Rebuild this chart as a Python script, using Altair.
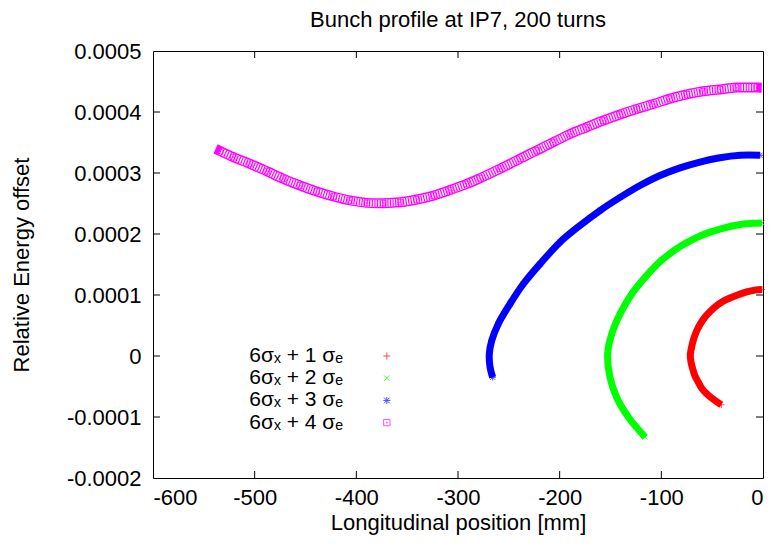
import altair as alt
import pandas as pd

# ---------------- data ----------------
series_names = ["6σₓ + 1 σₑ", "6σₓ + 2 σₑ", "6σₓ + 3 σₑ", "6σₓ + 4 σₑ"]
series_colors = ["#ff0000", "#00ff00", "#0000ff", "#ff00ff"]

red_x = [-1, -8, -16, -25, -32.5, -40, -46, -52, -57, -61.5, -65, -68, -70, -71.5,
         -70.8, -68.8, -66.8, -63.6, -60.3, -55.4, -48.9, -41]
red_y = [1.09e-4, 1.08e-4, 1.05e-4, 1.00e-4, 0.95e-4, 0.89e-4, 0.82e-4, 0.73e-4, 0.64e-4,
         0.53e-4, 0.42e-4, 0.29e-4, 0.16e-4, 0.02e-4, -0.10e-4, -0.23e-4, -0.33e-4,
         -0.43e-4, -0.53e-4, -0.62e-4, -0.71e-4, -0.80e-4]

green_x = [-1, -10, -21, -40.6, -60.3, -80, -99.7, -116, -129, -140.6, -148.8, -152.8,
           -150.5, -143.9, -132.5, -116]
green_y = [2.18e-4, 2.175e-4, 2.16e-4, 2.09e-4, 1.98e-4, 1.81e-4, 1.57e-4, 1.29e-4,
           1.02e-4, 0.69e-4, 0.36e-4, 0.04e-4, -0.35e-4, -0.68e-4, -1.00e-4, -1.33e-4]

blue_x = [-3, -22.6, -42.3, -62, -81.6, -101.3, -121, -140.6, -160.3, -180, -199.7,
          -219.3, -235.8, -248.8, -260.3, -266.8, -269.2, -268.5, -265.9]
blue_y = [3.29e-4, 3.29e-4, 3.25e-4, 3.18e-4, 3.085e-4, 2.96e-4, 2.795e-4, 2.60e-4,
          2.385e-4, 2.14e-4, 1.866e-4, 1.51e-4, 1.18e-4, 0.856e-4, 0.53e-4, 0.254e-4,
          0.036e-4, -0.18e-4, -0.35e-4]

magenta_x = [-534, -521, -504.6, -488.2, -471.8, -455.4, -439, -422.6, -406.2, -389.8,
             -373.4, -357, -340.6, -324.2, -307.9, -291.5, -278.4, -258.6, -239, -222.6,
             -206.3, -189.8, -173.4, -157, -140.6, -124.3, -107.9, -91.5, -75, -58.7,
             -42.3, -25.9, -6.2]
magenta_y = [3.36e-4, 3.26e-4, 3.15e-4, 3.03e-4, 2.905e-4, 2.795e-4, 2.697e-4, 2.615e-4,
             2.55e-4, 2.51e-4, 2.505e-4, 2.52e-4, 2.566e-4, 2.63e-4, 2.72e-4, 2.82e-4,
             2.915e-4, 3.07e-4, 3.233e-4, 3.37e-4, 3.505e-4, 3.64e-4, 3.75e-4, 3.86e-4,
             3.96e-4, 4.05e-4, 4.13e-4, 4.22e-4, 4.29e-4, 4.34e-4, 4.37e-4, 4.40e-4,
             4.40e-4]

x_ticks = [-600, -500, -400, -300, -200, -100, 0]
y_ticks = [-0.0002, -0.0001, 0, 0.0001, 0.0002, 0.0003, 0.0004, 0.0005]

# ---------------- table ----------------
rows = []
for name, xs, ys in zip(series_names,
                        [red_x, green_x, blue_x, magenta_x],
                        [red_y, green_y, blue_y, magenta_y]):
    for i, (xv, yv) in enumerate(zip(xs, ys)):
        rows.append({"series": name, "i": i, "x": xv, "y": yv})
df = pd.DataFrame(rows)
leg_df = pd.DataFrame({"series": series_names, "k": list(range(len(series_names)))})

FONT = "Liberation Sans"
FS = 22
LEG_FS = 21
W, H = 610, 427
# legend placement (in axis units): label right edge, symbol column, first row, row step
LEG_TEXT_X, LEG_SYM_X, LEG_Y0, LEG_DY = -413, -370, 0.0, -3.64e-5

xscale = alt.Scale(domain=[-600, 0], nice=False, zero=False)
yscale = alt.Scale(domain=[-0.0002, 0.0005], nice=False, zero=False)
cscale = alt.Scale(domain=series_names, range=series_colors)
shape_paths = [
    "M-1,0L1,0M0,-1L0,1",
    "M-0.8,-0.8L0.8,0.8M-0.8,0.8L0.8,-0.8",
    "M-1,0L1,0M0,-1L0,1M-0.8,-0.8L0.8,0.8M-0.8,0.8L0.8,-0.8",
    "M-0.9,-0.9L0.9,-0.9L0.9,0.9L-0.9,0.9ZM-0.12,-0.12L0.12,-0.12L0.12,0.12L-0.12,0.12Z",
]
sscale = alt.Scale(domain=series_names, range=shape_paths)

label_expr = "datum.value < 0 ? '-' + format(-datum.value, '~g') : format(datum.value, '~g')"
xaxis = alt.Axis(values=x_ticks, title="Longitudinal position [mm]",
                 labelExpr=label_expr, labelPadding=9, titlePadding=4)
yaxis = alt.Axis(values=y_ticks, title="Relative Energy offset",
                 labelExpr=label_expr, labelPadding=12, titlePadding=33)


def X(field):
    return alt.X(f"{field}:Q", scale=xscale, axis=xaxis)


def Y(field):
    return alt.Y(f"{field}:Q", scale=yscale, axis=yaxis)


base = alt.Chart(df)
magenta = series_names[3]

bands = base.transform_filter(alt.datum.series != magenta).mark_line(
    strokeWidth=7, interpolate="catmull-rom", strokeCap="butt"
).encode(x=X("x"), y=Y("y"), order="i:Q",
         color=alt.Color("series:N", scale=cscale, legend=None))

mag = base.transform_filter(alt.datum.series == magenta)
mag_outer = mag.mark_line(strokeWidth=10, interpolate="catmull-rom", strokeCap="square").encode(
    x=X("x"), y=Y("y"), order="i:Q", color=alt.Color("series:N", scale=cscale, legend=None))
mag_inner = mag.mark_line(strokeWidth=7, interpolate="catmull-rom", color="white").encode(
    x=X("x"), y=Y("y"), order="i:Q", detail="series:N")
mag_bars = mag.mark_line(strokeWidth=7, interpolate="catmull-rom", strokeDash=[1.2, 1.4]).encode(
    x=X("x"), y=Y("y"), order="i:Q", color=alt.Color("series:N", scale=cscale, legend=None))

points = base.mark_point(filled=False, size=40, strokeWidth=1).encode(
    x=X("x"), y=Y("y"),
    color=alt.Color("series:N", scale=cscale, legend=None),
    shape=alt.Shape("series:N", scale=sscale, legend=None),
)

# legend drawn as layers: labels on the left, symbols on the right (gnuplot style)
leg = alt.Chart(leg_df).transform_calculate(
    ly=f"{LEG_Y0} + datum.k * ({LEG_DY})", tx=f"{LEG_TEXT_X}", sx=f"{LEG_SYM_X}")
leg_text = leg.mark_text(align="right", baseline="middle", font=FONT, fontSize=LEG_FS,
                         color="black").encode(x=X("tx"), y=Y("ly"), text="series:N")
leg_sym = leg.mark_point(filled=False, size=50, strokeWidth=1).encode(
    x=X("sx"), y=Y("ly"),
    color=alt.Color("series:N", scale=cscale, legend=None),
    shape=alt.Shape("series:N", scale=sscale, legend=None))

# inward (mirrored) ticks like gnuplot
xt = pd.DataFrame({"t": x_ticks[1:-1]})
yt = pd.DataFrame({"t": y_ticks[1:-1]})
tick_b = alt.Chart(xt).mark_rule(color="black").encode(x=X("t"), y=alt.value(H), y2=alt.value(H - 7))
tick_t = alt.Chart(xt).mark_rule(color="black").encode(x=X("t"), y=alt.value(0), y2=alt.value(7))
tick_l = alt.Chart(yt).mark_rule(color="black").encode(y=Y("t"), x=alt.value(0), x2=alt.value(7))
tick_r = alt.Chart(yt).mark_rule(color="black").encode(y=Y("t"), x=alt.value(W), x2=alt.value(W - 7))

chart = alt.layer(
    mag_outer, mag_inner, mag_bars, bands, points, tick_b, tick_t, tick_l, tick_r,
    leg_text, leg_sym
).properties(
    width=W, height=H,
    background="white",
    autosize=alt.AutoSizeParams(type="none"),
    padding={"left": 153, "top": 51, "right": 6, "bottom": 69},
    title=alt.TitleParams("Bunch profile at IP7, 200 turns", font=FONT, fontSize=FS,
                          fontWeight="normal", color="black", anchor="middle", offset=8),
).configure_view(
    stroke="black", strokeWidth=1
).configure_axis(
    domain=False, ticks=False, grid=False, labelFont=FONT, labelFontSize=FS,
    labelColor="black", titleFont=FONT, titleFontSize=FS, titleFontWeight="normal",
    titleColor="black"
)

chart.save("out.html", embed_options={"renderer": "svg", "actions": False})
